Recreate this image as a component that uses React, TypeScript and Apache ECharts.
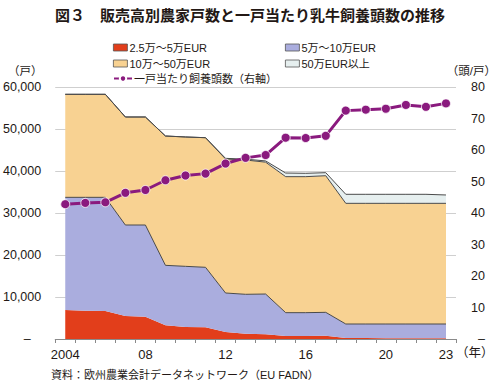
import React, { useEffect, useRef } from "react";
import * as echarts from "echarts";

const years = ["2004","2005","2006","2007","2008","2009","2010","2011","2012","2013","2014","2015","2016","2017","2018","2019","2020","2021","2022","2023"];
const xLabelMap: Record<string, string> = { "2004": "2004", "2008": "08", "2012": "12", "2016": "16", "2020": "20", "2023": "23" };

const seriesNames = ["2.5万～5万EUR", "5万～10万EUR", "10万～50万EUR", "50万EUR以上", "一戸当たり飼養頭数（右軸）"];

const farms25to5 = [6900, 6750, 6670, 5480, 5320, 3250, 2860, 2780, 1670, 1270, 1150, 700, 700, 750, 250, 250, 200, 200, 200, 200];
const farms5to10 = [26830, 26980, 27060, 21660, 21820, 14290, 14440, 14290, 9280, 9370, 9560, 5570, 5570, 5600, 3320, 3320, 3370, 3370, 3370, 3370];
const farms10to50 = [24530, 24530, 24530, 25720, 25720, 30790, 30800, 30860, 31910, 31980, 31390, 32380, 32380, 32530, 28730, 28730, 28730, 28730, 28730, 28730];
const farms50plus = [0, 0, 0, 0, 0, 0, 0, 0, 150, 200, 300, 870, 800, 720, 2150, 2150, 2150, 2150, 2150, 1990];
const cowsPerFarm = [42.8, 43.2, 43.4, 46.4, 47.3, 50.4, 51.9, 52.5, 55.7, 57.5, 58.4, 63.9, 63.8, 64.5, 72.5, 72.8, 73.1, 74.3, 73.7, 74.8];

const leftTicks = { min: 0, max: 60000, interval: 10000 };
const rightTicks = { min: 0, max: 80, interval: 10 };

const FONT = "'Liberation Sans', 'Noto Sans CJK JP', sans-serif";
const TXT = "#231815";

export default function App() {
  const ref = useRef<HTMLDivElement>(null);
  useEffect(() => {
    if (!ref.current) return;
    const chart = echarts.init(ref.current, undefined, { renderer: "svg" });
    const areaColors = ["#E23E1B", "#AAADDE", "#F8D292", "#E6EFEF"];
    const areaData = [farms25to5, farms5to10, farms10to50, farms50plus];
    const lineWidths = [0, 1, 1, 1];
    const areaSeries = areaData.map((d, i) => ({
      name: seriesNames[i],
      type: "line",
      stack: "farms",
      data: d,
      symbol: "none",
      lineStyle: { width: lineWidths[i], color: "#4a4a4a" },
      itemStyle: { color: areaColors[i] },
      areaStyle: { color: areaColors[i], opacity: 1 },
      z: 2,
    }));
    const legendBase = {
      icon: "rect",
      itemWidth: 14,
      itemHeight: 7,
      itemGap: 4,
      textStyle: { fontSize: 11, color: TXT, fontFamily: FONT, padding: [0, 0, 0, -3] },
      itemStyle: { borderColor: "#555", borderWidth: 0.8 },
      selectedMode: false,
    };
    chart.setOption({
      animation: false,
      backgroundColor: "#fff",
      textStyle: { fontFamily: FONT },
      title: {
        text: "図３　販売高別農家戸数と一戸当たり乳牛飼養頭数の推移",
        left: "center",
        top: 3,
        textStyle: { fontSize: 15, fontWeight: "bold", color: TXT, fontFamily: FONT },
      },
      legend: [
        { ...legendBase, data: [seriesNames[0]], left: 108, top: 37 },
        { ...legendBase, data: [seriesNames[1]], left: 280, top: 37 },
        { ...legendBase, data: [seriesNames[2]], left: 108, top: 53 },
        { ...legendBase, data: [seriesNames[3]], left: 280, top: 53 },
        {
          data: [seriesNames[4]],
          left: 108,
          top: 68,
          itemWidth: 18,
          itemHeight: 8,
          selectedMode: false,
          textStyle: { fontSize: 11, color: TXT, fontFamily: FONT, padding: [0, 0, 0, -3] },
        },
      ],
      grid: { left: 53, right: 44, top: 87, bottom: 45 },
      xAxis: {
        type: "category",
        data: years,
        boundaryGap: true,
        axisLine: { lineStyle: { color: "#8a8a8a", width: 1 } },
        axisTick: { show: true, interval: 0, length: 4, lineStyle: { color: "#8a8a8a" } },
        axisLabel: {
          interval: 0,
          margin: 9,
          fontSize: 13,
          color: TXT,
          fontFamily: FONT,
          formatter: (v: string) => xLabelMap[v] ?? "",
        },
        splitLine: { show: false },
      },
      yAxis: [
        {
          type: "value",
          ...leftTicks,
          axisLine: { show: false },
          axisTick: { show: false },
          splitLine: { lineStyle: { color: "#cfcfcf", width: 1 } },
          axisLabel: {
            margin: 14,
            fontSize: 12.5,
            color: TXT,
            fontFamily: FONT,
            formatter: (v: number) => (v === 0 ? "–   " : v.toLocaleString("en-US")),
          },
        },
        {
          type: "value",
          ...rightTicks,
          axisLine: { show: false },
          axisTick: { show: false },
          splitLine: { show: false },
          axisLabel: {
            margin: 15,
            fontSize: 12.5,
            color: TXT,
            fontFamily: FONT,
            formatter: (v: number) => (v === 0 ? "  –" : String(v)),
          },
        },
      ],
      series: [
        ...areaSeries,
        {
          name: seriesNames[4],
          type: "line",
          yAxisIndex: 1,
          data: cowsPerFarm,
          symbol: "circle",
          symbolSize: 9,
          lineStyle: { width: 3, color: "#8A1A7E" },
          itemStyle: { color: "#8A1A7E", borderColor: "#fff", borderWidth: 0.8 },
          z: 5,
        },
      ],
      graphic: [
        { type: "text", left: 8, top: 65, style: { text: "（戸）", fontSize: 11.5, fill: TXT, fontFamily: FONT } },
        { type: "text", right: 4, top: 65, style: { text: "（頭/戸）", fontSize: 11.5, fill: TXT, fontFamily: FONT } },
        { type: "text", left: 456, top: 347, style: { text: "（年）", fontSize: 12.5, fill: TXT, fontFamily: FONT } },
        { type: "text", left: 51, top: 369, style: { text: "資料：欧州農業会計データネットワーク（EU FADN）", fontSize: 11, fill: TXT, fontFamily: FONT } },
      ],
    });
    return () => chart.dispose();
  }, []);
  return <div ref={ref} style={{ width: 500, height: 384, position: "absolute", left: 0, top: 0 }} />;
}
